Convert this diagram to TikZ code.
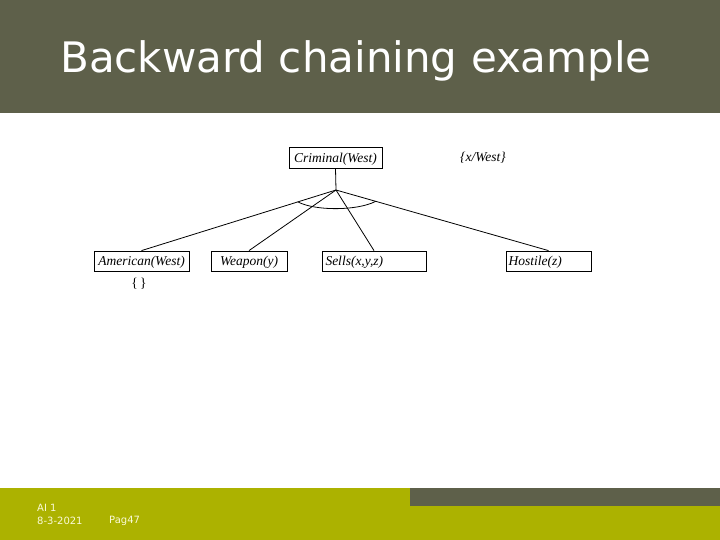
\documentclass[tikz,border=0pt]{standalone}
\usepackage{fontspec}
\setmainfont{Liberation Serif}
\newfontfamily\slidefont{DejaVu Sans}
\usetikzlibrary{calc}
\definecolor{headgray}{RGB}{94,96,74}
\definecolor{footgreen}{RGB}{172,178,0}
\definecolor{foottext}{RGB}{250,250,215}
\tikzset{pred/.style={draw,line width=0.8pt,inner sep=0pt,minimum height=20,
    font=\fontsize{13.5}{15}\selectfont\itshape,text depth=0pt}}
\begin{document}
\begin{tikzpicture}[x=1pt,y=-1pt]
    \useasboundingbox (0,0) rectangle (720,540);
    % slide frame
    \fill[headgray] (0,0) rectangle (720,113);
    \fill[footgreen] (0,488) rectangle (720,540);
    \fill[headgray] (410,488) rectangle (720,506);
    \node[text=white,font=\slidefont\fontsize{42}{46}\selectfont] (title) at (356,61) {Backward chaining example};
    \node[text=foottext,font=\slidefont\fontsize{10}{12}\selectfont,anchor=west,inner sep=0pt] (ai) at (37,508) {AI 1};
    \node[text=foottext,font=\slidefont\fontsize{10}{12}\selectfont,anchor=west,inner sep=0pt] (date) at (37,521) {8-3-2021};
    \node[text=foottext,font=\slidefont\fontsize{10}{12}\selectfont,anchor=west,inner sep=0pt] (page) at (109,521) {Pag47};
    % proof tree
    \node[pred,minimum width=93,minimum height=21] (crim) at (335.5,157.5) {Criminal(West)};
    \node[font=\fontsize{13.5}{15}\selectfont\itshape] (subst) at (483,158) {\{x/West\}};
    \node[pred,minimum width=95] (amer) at (141.5,261) {American(West)};
    \node[pred,minimum width=76] (weap) at (249,261) {Weapon(y)};
    \node[pred,text width=97,align=left,minimum width=104,inner xsep=3.5] (sells) at (374,261) {Sells(x,y,z)};
    \node[pred,text width=80,align=left,minimum width=85,inner xsep=2.5] (host) at (548.5,261) {Hostile(z)};
    \node[font=\fontsize{13.5}{15}\selectfont] (empty) at (139,284) {\{\,\}};
    \coordinate (j) at (336,190);
    \draw[line width=0.8pt] (crim.south) -- (j);
    \foreach \n in {amer,weap,sells,host} { \draw[line width=0.8pt] (j) -- (\n.north); }
    \draw[line width=0.8pt] ($(j)!0.196!(amer.north)$) .. controls (315,211) and (357,211) .. ($(j)!0.187!(host.north)$);
\end{tikzpicture}
\end{document}
